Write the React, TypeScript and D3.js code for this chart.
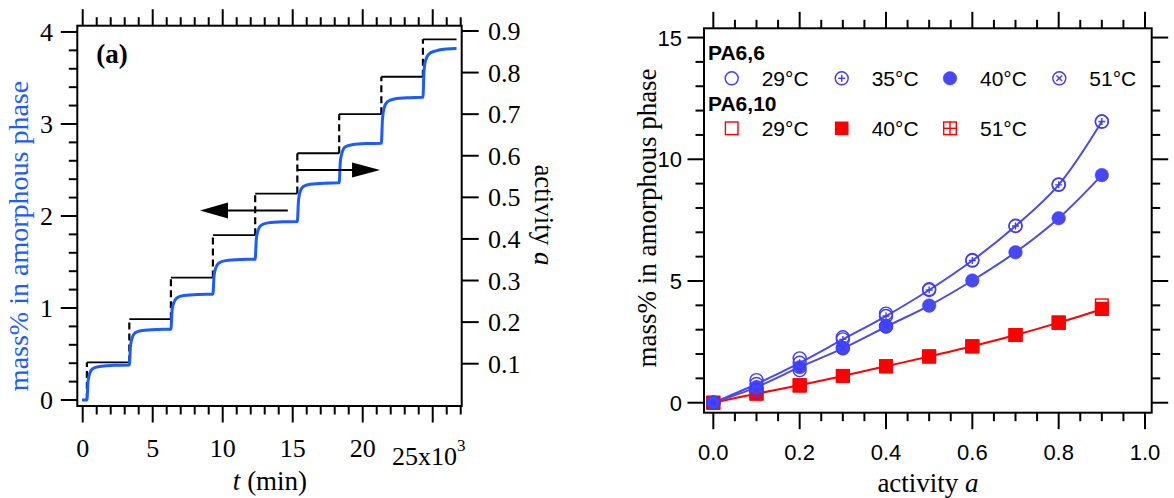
import React from 'react';
import * as d3 from 'd3';

// ---------- Panel (a): sorption kinetics ----------
const stepTimes = [0.3, 3.33, 6.3, 9.3, 12.32, 15.33, 18.32, 21.33, 24.3]; // x1000 min
const activityLevels = [0.013, 0.103, 0.207, 0.307, 0.409, 0.509, 0.606, 0.7, 0.79, 0.88];
const timeStart = -0.05;
const timeEnd = 26.7;
const massCurve: [number, number][] = [
  [-0.05, 0], [0.3, 0], [0.38, 0.2], [0.48, 0.28], [0.7, 0.34], [1.2, 0.365], [2.3, 0.378], [3.33, 0.38],
  [3.41, 0.58], [3.52, 0.67], [3.75, 0.73], [4.25, 0.755], [5.3, 0.767], [6.3, 0.77],
  [6.38, 0.97], [6.49, 1.05], [6.72, 1.11], [7.22, 1.135], [8.3, 1.147], [9.3, 1.15],
  [9.38, 1.35], [9.49, 1.43], [9.72, 1.49], [10.22, 1.515], [11.3, 1.527], [12.32, 1.53],
  [12.4, 1.75], [12.51, 1.84], [12.74, 1.9], [13.24, 1.925], [14.3, 1.937], [15.33, 1.94],
  [15.41, 2.16], [15.52, 2.26], [15.75, 2.32], [16.25, 2.345], [17.3, 2.357], [18.32, 2.36],
  [18.4, 2.59], [18.51, 2.68], [18.74, 2.75], [19.24, 2.775], [20.3, 2.787], [21.33, 2.79],
  [21.41, 3.05], [21.52, 3.17], [21.75, 3.24], [22.25, 3.272], [23.3, 3.286], [24.3, 3.29],
  [24.38, 3.58], [24.49, 3.69], [24.72, 3.76], [25.22, 3.795], [26.0, 3.815], [26.7, 3.82],
];
const xTicksA = [0, 5, 10, 15, 20, 25];
const xTickLabelsA = ['0', '5', '10', '15', '20', '25x10'];
const yTicksMass = [0, 1, 2, 3, 4];
const yTicksAct = [0.1, 0.2, 0.3, 0.4, 0.5, 0.6, 0.7, 0.8, 0.9];
// arrows: x from, x tip, level
const arrowLeft = { from: 14.65, to: 8.38, mass: 2.06 };
const arrowRight = { from: 15.35, to: 21.24, activity: 0.566 };

// ---------- Panel (b): isotherms ----------
const activity = [0, 0.1, 0.2, 0.3, 0.4, 0.5, 0.6, 0.7, 0.8, 0.9];
const activity51 = [0, 0.1, 0.2, 0.3, 0.4];
const pa66_29 = [0, 0.93, 1.82, 2.69, 3.66, 4.66, 5.86, 7.27, 8.97, 11.55];
const pa66_35 = [0, 0.77, 1.64, 2.6, 3.56, 4.63, 5.84, 7.26, 8.95, 11.55];
const pa66_40 = [0, 0.64, 1.46, 2.23, 3.12, 3.99, 5.02, 6.18, 7.58, 9.35];
const pa66_51 = [0, 0.52, 1.34, 2.25, 3.14];
const pa610_29 = [0, 0.38, 0.72, 1.1, 1.5, 1.9, 2.32, 2.78, 3.3, 4.0];
const pa610_40 = [0, 0.37, 0.72, 1.1, 1.5, 1.9, 2.32, 2.78, 3.29, 3.84];
const pa610_51 = [0, 0.38, 0.7, 1.1, 1.49, 1.9, 2.31, 2.78, 3.28, 3.86];
const xTicksB = [0, 0.2, 0.4, 0.6, 0.8, 1.0];
const yTicksB = [0, 5, 10, 15];
const legendPA66 = ['29°C', '35°C', '40°C', '51°C'];
const legendPA610 = ['29°C', '40°C', '51°C'];

const SERIF = '"Liberation Serif", "Times New Roman", Times, serif';
const SANS = '"Liberation Sans", Arial, Helvetica, sans-serif';
const BLUE_A = '#1a5cff';
const BLUE = '#3c3cff';
const BLUE_FILL = '#4848f2';
const BLUE_LINE = '#4a4af0';
const RED = '#ff0000';

type MarkerKind = 'circle' | 'circlePlus' | 'circleFill' | 'circleX' | 'square' | 'squareFill' | 'squareGrid';

function Marker({ kind, x, y }: { kind: MarkerKind; x: number; y: number }) {
  const r = 6.5;
  const s = 6.8;
  const sw = 1.4;
  switch (kind) {
    case 'circle':
      return <circle cx={x} cy={y} r={r} fill="none" stroke={BLUE} strokeWidth={sw} />;
    case 'circlePlus':
      return (
        <g stroke={BLUE} strokeWidth={sw} fill="none">
          <circle cx={x} cy={y} r={r} />
          <line x1={x - 3.5} x2={x + 3.5} y1={y} y2={y} />
          <line x1={x} x2={x} y1={y - 3.5} y2={y + 3.5} />
        </g>
      );
    case 'circleFill':
      return <circle cx={x} cy={y} r={r + 0.3} fill={BLUE_FILL} stroke={BLUE_FILL} strokeWidth={0.5} />;
    case 'circleX':
      return (
        <g stroke={BLUE} strokeWidth={sw} fill="none">
          <circle cx={x} cy={y} r={r} />
          <line x1={x - 2.8} x2={x + 2.8} y1={y - 2.8} y2={y + 2.8} />
          <line x1={x - 2.8} x2={x + 2.8} y1={y + 2.8} y2={y - 2.8} />
        </g>
      );
    case 'square':
      return <rect x={x - s + 0.5} y={y - s + 0.5} width={2 * s - 1} height={2 * s - 1} fill="none" stroke={RED} strokeWidth={sw} />;
    case 'squareFill':
      return <rect x={x - s} y={y - s} width={2 * s} height={2 * s} fill={RED} />;
    case 'squareGrid':
      return (
        <g stroke={RED} strokeWidth={sw} fill="none">
          <rect x={x - s + 0.5} y={y - s + 0.5} width={2 * s - 1} height={2 * s - 1} />
          <line x1={x - s} x2={x + s} y1={y} y2={y} />
          <line x1={x} x2={x} y1={y - s} y2={y + s} />
        </g>
      );
  }
  return null;
}

function PanelA() {
  const L = 77.3, R = 461.7, T = 25.7, B = 406;
  const x = d3.scaleLinear().domain([-0.386, 27.07]).range([L, R]);
  const yM = d3.scaleLinear().domain([-0.065, 4.068]).range([B, T]);
  const yA = d3.scaleLinear().domain([-0.0017, 0.9127]).range([B, T]);
  const xMinor = d3.range(0, 27.01, 1);
  const yMinor = d3.range(0, 4.01, 0.2);
  const massLine = d3.line<[number, number]>().x(d => x(d[0])).y(d => yM(d[1])).curve(d3.curveMonotoneX);

  const bounds = [timeStart, ...stepTimes, timeEnd];
  const horiz = activityLevels.map((a, i) => ({ x1: bounds[i], x2: bounds[i + 1], a }));
  const verts = stepTimes.map((t, i) => ({ t, a1: activityLevels[i], a2: activityLevels[i + 1] }));

  const ay = yM(arrowLeft.mass);
  const ry = yA(arrowRight.activity);
  const lTip = x(arrowLeft.to);
  const rTip = x(arrowRight.to);

  return (
    <g>
      <defs>
        <clipPath id="clipA"><rect x={L} y={T} width={R - L} height={B - T} /></clipPath>
      </defs>
      <g clipPath="url(#clipA)">
        {horiz.map((h, i) => (
          <line key={'h' + i} x1={x(h.x1)} x2={x(h.x2)} y1={yA(h.a)} y2={yA(h.a)} stroke="#000" strokeWidth={1.8} />
        ))}
        {verts.map((v, i) => (
          <line key={'v' + i} x1={x(v.t)} x2={x(v.t)} y1={yA(v.a1)} y2={yA(v.a2)} stroke="#000" strokeWidth={2.2} strokeDasharray="7,4" />
        ))}
        <path d={massLine(massCurve) || ''} fill="none" stroke={BLUE_A} strokeWidth={3} strokeLinejoin="round" />
      </g>
      {/* arrows */}
      <line x1={x(arrowLeft.from)} x2={lTip + 20} y1={ay} y2={ay} stroke="#000" strokeWidth={2} />
      <path d={`M${lTip},${ay} L${lTip + 28},${ay - 8} L${lTip + 28},${ay + 8} Z`} fill="#000" />
      <line x1={x(arrowRight.from)} x2={rTip - 20} y1={ry} y2={ry} stroke="#000" strokeWidth={2} />
      <path d={`M${rTip},${ry} L${rTip - 28},${ry - 7.5} L${rTip - 28},${ry + 7.5} Z`} fill="#000" />

      <rect x={L} y={T} width={R - L} height={B - T} fill="none" stroke="#000" strokeWidth={2} />
      {xMinor.map(v => {
        const major = xTicksA.includes(v);
        const len = major ? 16.5 : 8.5;
        return (
          <g key={'xt' + v} stroke="#000" strokeWidth={2}>
            <line x1={x(v)} x2={x(v)} y1={B} y2={B + len} />
            <line x1={x(v)} x2={x(v)} y1={T} y2={T - len} />
          </g>
        );
      })}
      {xTicksA.map((v, i) => (
        i < xTicksA.length - 1 ? (
          <text key={'xl' + v} x={x(v)} y={457} textAnchor="middle" fontFamily={SERIF} fontSize={26}>{xTickLabelsA[i]}</text>
        ) : (
          <text key={'xl' + v} x={x(v) - 4} y={465} textAnchor="middle" fontFamily={SERIF} fontSize={26}>
            {xTickLabelsA[i]}<tspan fontSize={17} dy={-14}>3</tspan>
          </text>
        )
      ))}
      {yMinor.map(v => {
        const major = Math.abs(v - Math.round(v)) < 1e-6;
        const len = major ? 16.5 : 8.5;
        return <line key={'ym' + v.toFixed(2)} x1={L} x2={L - len} y1={yM(v)} y2={yM(v)} stroke="#000" strokeWidth={2} />;
      })}
      {yTicksMass.map(v => (
        <text key={'yl' + v} x={53} y={yM(v) + 9} textAnchor="end" fontFamily={SERIF} fontSize={26}>{v}</text>
      ))}
      {yTicksAct.map(v => (
        <g key={'ya' + v}>
          <line x1={R} x2={R + 17} y1={yA(v)} y2={yA(v)} stroke="#000" strokeWidth={2} />
          <text x={488} y={yA(v) + 9} fontFamily={SERIF} fontSize={26}>{v.toFixed(1)}</text>
        </g>
      ))}
      <text x={112} y={63} textAnchor="middle" fontFamily={SERIF} fontSize={27} fontWeight="bold">(a)</text>
      <text x={270} y={490} textAnchor="middle" fontFamily={SERIF} fontSize={27}>
        <tspan fontStyle="italic">t</tspan> (min)
      </text>
      <text transform={`translate(28,236) rotate(-90)`} textAnchor="middle" fontFamily={SERIF} fontSize={28} fill={BLUE_A}>
        mass% in amorphous phase
      </text>
      <text transform={`translate(535,215) rotate(90)`} textAnchor="middle" fontFamily={SERIF} fontSize={27}>
        activity <tspan fontStyle="italic">a</tspan>
      </text>
    </g>
  );
}

function PanelB() {
  const L = 704, R = 1151.7, T = 28.3, B = 412.7;
  const x = d3.scaleLinear().domain([-0.0216, 1.0155]).range([L, R]);
  const y = d3.scaleLinear().domain([-0.41, 15.38]).range([B, T]);
  const xMinor = d3.range(0, 1.0001, 0.05);
  const yMinor = d3.range(0, 15.01, 1);
  const line = d3.line<number>().x((_, i) => x(activity[i])).y(d => y(d)).curve(d3.curveCatmullRom.alpha(0.5));

  const series: { kind: MarkerKind; a: number[]; v: number[] }[] = [
    { kind: 'square', a: activity, v: pa610_29 },
    { kind: 'squareGrid', a: activity, v: pa610_51 },
    { kind: 'squareFill', a: activity, v: pa610_40 },
    { kind: 'circle', a: activity, v: pa66_29 },
    { kind: 'circleFill', a: activity, v: pa66_40 },
    { kind: 'circlePlus', a: activity, v: pa66_35 },
    { kind: 'circleX', a: activity51, v: pa66_51 },
  ];

  const row1: MarkerKind[] = ['circle', 'circlePlus', 'circleFill', 'circleX'];
  const row2: MarkerKind[] = ['square', 'squareFill', 'squareGrid'];
  const symX = [731.7, 841.7, 950, 1059.3];
  const txtX = [761.7, 871.7, 980, 1089.3];

  return (
    <g>
      <defs>
        <clipPath id="clipB"><rect x={L} y={T} width={R - L} height={B - T} /></clipPath>
      </defs>
      <g clipPath="url(#clipB)">
        <path d={line(pa610_40) || ''} fill="none" stroke={RED} strokeWidth={2} />
        <path d={line(pa66_40) || ''} fill="none" stroke={BLUE_LINE} strokeWidth={2} />
        <path d={line(pa66_35) || ''} fill="none" stroke={BLUE_LINE} strokeWidth={2} />
        {series.map((s, si) => (
          <g key={'s' + si}>
            {s.v.map((v, i) => <Marker key={i} kind={s.kind} x={x(s.a[i])} y={y(v)} />)}
          </g>
        ))}
      </g>
      <rect x={L} y={T} width={R - L} height={B - T} fill="none" stroke="#000" strokeWidth={2} />
      {xMinor.map(v => {
        const major = xTicksB.some(t => Math.abs(t - v) < 1e-6);
        const len = major ? 16.5 : 8.5;
        return (
          <g key={'bx' + v.toFixed(2)} stroke="#000" strokeWidth={2}>
            <line x1={x(v)} x2={x(v)} y1={B} y2={B + len} />
            <line x1={x(v)} x2={x(v)} y1={T} y2={T - len} />
          </g>
        );
      })}
      {xTicksB.map(v => (
        <text key={'bxl' + v} x={x(v)} y={460} textAnchor="middle" fontFamily={SANS} fontSize={22}>{v.toFixed(1)}</text>
      ))}
      {yMinor.map(v => {
        const major = yTicksB.includes(Math.round(v));
        const len = major ? 16.5 : 8.5;
        return (
          <g key={'by' + v} stroke="#000" strokeWidth={2}>
            <line x1={L} x2={L - len} y1={y(v)} y2={y(v)} />
            <line x1={R} x2={R + len} y1={y(v)} y2={y(v)} />
          </g>
        );
      })}
      {yTicksB.map(v => (
        <text key={'byl' + v} x={682} y={y(v) + 8} textAnchor="end" fontFamily={SANS} fontSize={22}>{v}</text>
      ))}
      {/* legend */}
      <text x={708} y={60} fontFamily={SANS} fontSize={21} fontWeight="bold">PA6,6</text>
      {row1.map((k, i) => (
        <g key={'l1' + i}>
          <Marker kind={k} x={symX[i]} y={78.3} />
          <text x={txtX[i]} y={86} fontFamily={SANS} fontSize={21}>{legendPA66[i]}</text>
        </g>
      ))}
      <text x={708} y={111} fontFamily={SANS} fontSize={21} fontWeight="bold">PA6,10</text>
      {row2.map((k, i) => (
        <g key={'l2' + i}>
          <Marker kind={k} x={symX[i]} y={128.3} />
          <text x={txtX[i]} y={136} fontFamily={SANS} fontSize={21}>{legendPA610[i]}</text>
        </g>
      ))}
      <text x={928} y={492} textAnchor="middle" fontFamily={SERIF} fontSize={27}>
        activity <tspan fontStyle="italic">a</tspan>
      </text>
      <text transform={`translate(656,218) rotate(-90)`} textAnchor="middle" fontFamily={SERIF} fontSize={27}>
        mass% in amorphous phase
      </text>
    </g>
  );
}

export default function App() {
  return (
    <svg width={1174} height={498} viewBox="0 0 1174 498"
      style={{ position: 'absolute', left: 0, top: 0, background: '#fff' }}>
      <rect x={0} y={0} width={1174} height={498} fill="#fff" />
      <PanelA />
      <PanelB />
    </svg>
  );
}
